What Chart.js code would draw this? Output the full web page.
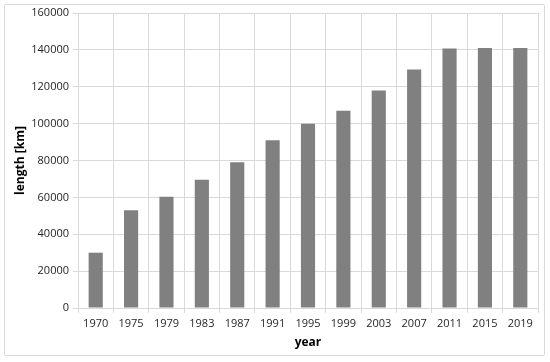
<!DOCTYPE html>
<html><head><meta charset="utf-8">
<script src="https://cdn.jsdelivr.net/npm/chart.js@4"></script>
<style>
html,body{margin:0;padding:0;background:#fff;}
#wrap{position:relative;width:550px;height:362px;}
#frame{position:absolute;left:4px;top:4px;width:541px;height:352px;border:1px solid #d9d9d9;box-sizing:border-box;border-radius:2px;pointer-events:none;}
canvas{position:absolute;left:0;top:0;}
</style></head>
<body>
<div id="wrap"><canvas id="c" width="550" height="362"></canvas><div id="frame"></div></div>
<script>
const years = ["1970","1975","1979","1983","1987","1991","1995","1999","2003","2007","2011","2015","2019"];
const lengths = [30000,53000,60300,69500,79000,91000,100000,107000,118000,129300,140700,141000,141000];
const yTicks = [0,20000,40000,60000,80000,100000,120000,140000,160000];

const font = {family:"'Open Sans', 'Liberation Sans', sans-serif", size:11};
new Chart(document.getElementById('c'), {
  type:'bar',
  data:{labels:years, datasets:[{data:lengths, backgroundColor:'#808080', borderWidth:0, categoryPercentage:1, barPercentage:0.4}]},
  options:{
    responsive:false, animation:false, devicePixelRatio:1,
    layout:{padding:{left:13,right:12,top:13,bottom:12}},
    plugins:{legend:{display:false}, tooltip:{enabled:false}},
    scales:{
      x:{
        grid:{color:'#d9d9d9', offset:true, tickLength:5, drawTicks:true, tickColor:'#d9d9d9'},
        border:{color:'#d9d9d9'},
        ticks:{color:'#262626', font:font, padding:4, maxRotation:0, autoSkip:false},
        title:{display:true, text:'year', color:'#000', font:{family:font.family, size:12, weight:'bold'}, padding:{top:2,bottom:0}},
        afterFit:s=>{s.height=42;}
      },
      y:{
        min:0, max:160000,
        afterBuildTicks:s=>{s.ticks = yTicks.map(v=>({value:v}));},
        grid:{color:'#d9d9d9', tickLength:5, tickColor:'#d9d9d9'},
        border:{color:'#d9d9d9'},
        ticks:{color:'#262626', font:font, padding:4, callback:v=>String(v)},
        title:{display:true, text:'length [km]', color:'#000', font:{family:font.family, size:12, weight:'bold'}, padding:{top:0,bottom:4}},
        afterFit:s=>{s.width=65;}
      }
    }
  }
});
</script>
</body></html>
